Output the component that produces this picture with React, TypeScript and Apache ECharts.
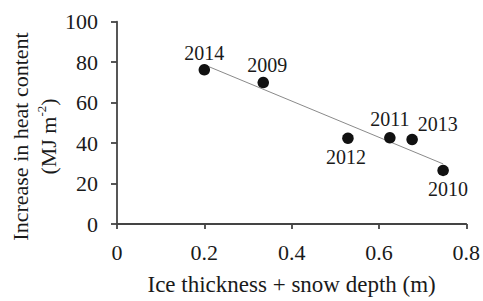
import React, { useEffect, useRef } from "react";
import * as echarts from "echarts";

const years = ["2014", "2009", "2012", "2011", "2013", "2010"];
const thickness = [0.2, 0.335, 0.529, 0.625, 0.676, 0.747];
const heatGain = [76.2, 69.9, 42.4, 42.6, 41.8, 26.5];
const labelPos = ["top", "top", "bottom", "top", "right", "bottom"];
const labelOffsets = [[0, 2], [4, 1], [-2, 0], [0, 0], [-3, -15], [5, 0]];
const trendX = [0.2, 0.747];
const trendY = [78.7, 29.7];
const xTicks = [0, 0.2, 0.4, 0.6, 0.8];
const yTicks = [0, 20, 40, 60, 80, 100];

const FONT = "Liberation Serif";
const TXT = "#1a1a1a";
const AX = "#444";

export default function App() {
  const ref = useRef<HTMLDivElement>(null);
  useEffect(() => {
    if (!ref.current) return;
    const chart = echarts.init(ref.current, null, { renderer: "svg" });
    const scatterData = years.map((y, i) => ({
      value: [thickness[i], heatGain[i]],
      name: y,
      label: {
        show: true,
        position: labelPos[i],
        offset: labelOffsets[i],
        distance: 3,
      },
    }));
    chart.setOption({
      animation: false,
      grid: { left: 117, right: 16.5, top: 21.7, bottom: 69.3 },
      xAxis: {
        type: "value",
        min: xTicks[0],
        max: xTicks[xTicks.length - 1],
        interval: 0.2,
        name: "Ice thickness + snow depth (m)",
        nameLocation: "middle",
        nameGap: 49,
        nameTextStyle: { fontFamily: FONT, fontSize: 23, color: TXT },
        axisLine: { show: true, onZero: false, lineStyle: { color: AX, width: 1.8 } },
        axisTick: { show: true, length: 5, lineStyle: { color: AX, width: 1.8 } },
        axisLabel: { fontFamily: FONT, fontSize: 22, color: TXT, margin: 17 },
        splitLine: { show: false },
      },
      yAxis: {
        type: "value",
        min: yTicks[0],
        max: yTicks[yTicks.length - 1],
        interval: 20,
        axisLine: { show: true, lineStyle: { color: AX, width: 1.8 } },
        axisTick: { show: true, length: 6, lineStyle: { color: AX, width: 1.8 } },
        axisLabel: { fontFamily: FONT, fontSize: 22, color: TXT, margin: 19 },
        splitLine: { show: false },
      },
      graphic: [
        {
          type: "text",
          x: 20,
          y: 136.5,
          rotation: Math.PI / 2,
          style: {
            text: "Increase in heat content",
            fontFamily: FONT,
            fontSize: 22,
            fill: TXT,
            align: "center",
            verticalAlign: "middle",
          },
        },
        {
          type: "text",
          x: 47,
          y: 136.5,
          rotation: Math.PI / 2,
          style: {
            text: "{a|(MJ m}{s|-2}{a|)}",
            fontFamily: FONT,
            fontSize: 22,
            fill: TXT,
            align: "center",
            verticalAlign: "middle",
            rich: {
              a: { fontFamily: FONT, fontSize: 22, color: TXT, lineHeight: 24, verticalAlign: "bottom" },
              s: { fontFamily: FONT, fontSize: 13, color: TXT, lineHeight: 24, verticalAlign: "top" },
            },
          },
        },
      ],
      series: [
        {
          type: "line",
          data: trendX.map((x, i) => [x, trendY[i]]),
          symbol: "none",
          lineStyle: { color: "#8a8a8a", width: 1 },
          z: 1,
          silent: true,
        },
        {
          type: "scatter",
          data: scatterData,
          symbolSize: 11.5,
          itemStyle: { color: "#111", opacity: 1 },
          label: {
            formatter: "{b}",
            fontFamily: FONT,
            fontSize: 20,
            color: TXT,
          },
          z: 3,
        },
      ],
    });
    return () => chart.dispose();
  }, []);
  return <div ref={ref} style={{ width: 483, height: 301, position: "absolute", left: 0, top: 0 }} />;
}
